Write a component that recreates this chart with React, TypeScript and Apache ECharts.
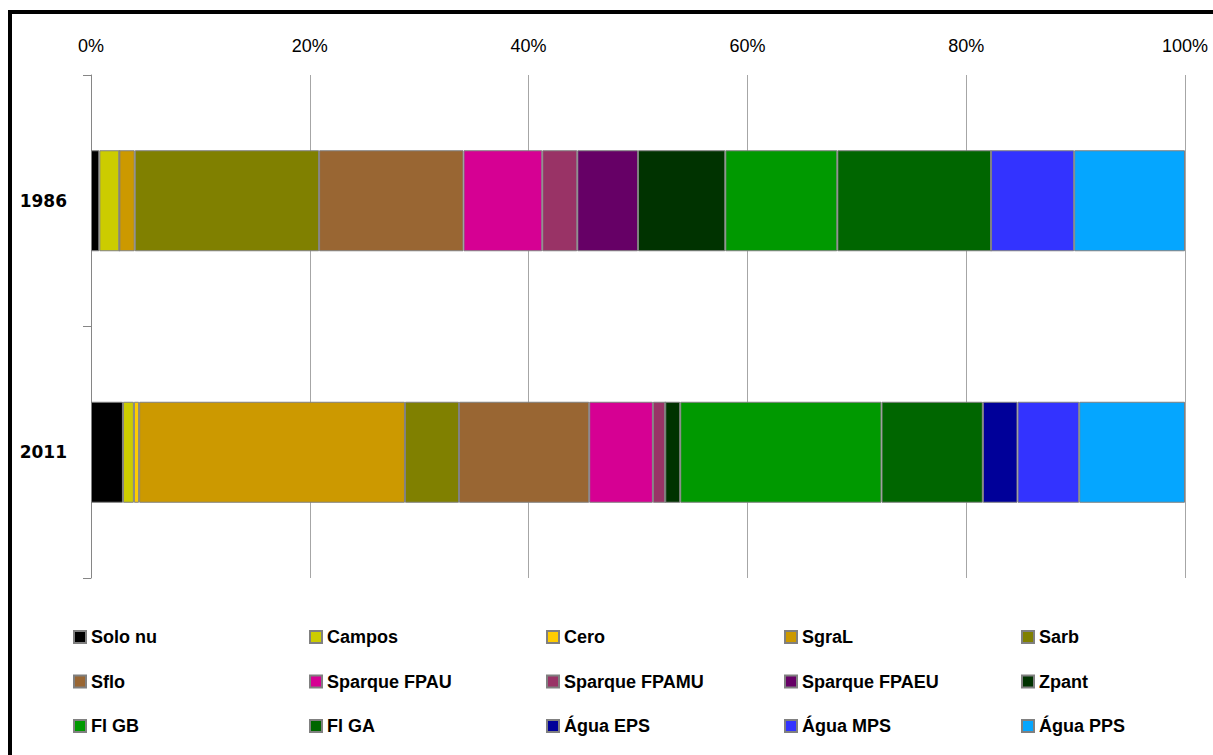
import React, { useEffect, useRef } from "react";
import * as echarts from "echarts";

const years = ["1986", "2011"];
const classNames = [
  "Solo nu", "Campos", "Cero", "SgraL", "Sarb",
  "Sflo", "Sparque FPAU", "Sparque FPAMU", "Sparque FPAEU", "Zpant",
  "Fl GB", "Fl GA", "Água EPS", "Água MPS", "Água PPS",
];
const values1986 = [0.76, 1.83, 0, 1.41, 16.85, 13.2, 7.2, 3.2, 5.55, 7.98, 10.24, 14.05, 0, 7.6, 10.13];
const values2011 = [2.92, 1.0, 0.48, 24.3, 4.94, 11.9, 5.82, 1.13, 0, 1.37, 18.4, 9.26, 3.17, 5.64, 9.67];
const colors = [
  "#000000", "#CCCC00", "#FFCC00", "#CC9900", "#808000",
  "#996633", "#D60093", "#993366", "#660066", "#003300",
  "#009900", "#006600", "#000099", "#3333FF", "#05A6FF",
];
const xTicks = [0, 20, 40, 60, 80, 100];

export default function App() {
  const ref = useRef<HTMLDivElement>(null);
  useEffect(() => {
    if (!ref.current) return;
    const chart = echarts.init(ref.current, null, { renderer: "svg" });
    const colLeft = [73, 309, 546, 784, 1021];
    const legends = colLeft.map((left, c) => ({
      orient: "vertical",
      left,
      top: 627,
      padding: 0,
      itemWidth: 12,
      itemHeight: 12,
      itemGap: 24.5,
      icon: "rect",
      data: [classNames[c], classNames[c + 5], classNames[c + 10]],
      textStyle: {
        fontFamily: "Liberation Sans",
        fontWeight: "bold",
        fontSize: 18,
        lineHeight: 20,
        color: "#000",
      },
    }));
    chart.setOption({
      animation: false,
      backgroundColor: "#ffffff",
      grid: { left: 91, right: 28, top: 75, bottom: 177, containLabel: false },
      xAxis: {
        type: "value",
        position: "top",
        min: 0,
        max: 100,
        interval: 20,
        axisLine: { show: false },
        axisTick: { show: false },
        splitLine: { show: true, lineStyle: { color: "#A6A6A6", width: 1 } },
        axisLabel: {
          formatter: (v: number) => (xTicks.includes(v) ? v + "%" : ""),
          fontFamily: "Liberation Sans",
          fontSize: 18,
          color: "#000",
          margin: 20,
        },
      },
      yAxis: {
        type: "category",
        data: years,
        inverse: true,
        axisLine: { show: true, lineStyle: { color: "#868686", width: 1 } },
        axisTick: { show: true, length: 8, lineStyle: { color: "#868686" } },
        axisLabel: {
          fontFamily: "DejaVu Sans",
          fontWeight: "bold",
          fontSize: 17,
          color: "#000",
          margin: 24,
        },
      },
      legend: legends,
      series: classNames.map((name, i) => ({
        name,
        type: "bar",
        stack: "total",
        barWidth: 101,
        data: [values1986[i], values2011[i]],
        itemStyle: { color: colors[i], borderColor: "#808080", borderWidth: 1 },
      })),
      graphic: [
        {
          type: "rect",
          shape: { x: 10, y: 12, width: 1400, height: 1000 },
          style: { fill: "none", stroke: "#000", lineWidth: 4 },
          silent: true,
          z: 100,
        },
      ],
    });
    return () => chart.dispose();
  }, []);
  return (
    <div
      ref={ref}
      style={{ position: "fixed", left: 0, top: 0, width: 1213, height: 755 }}
    />
  );
}
